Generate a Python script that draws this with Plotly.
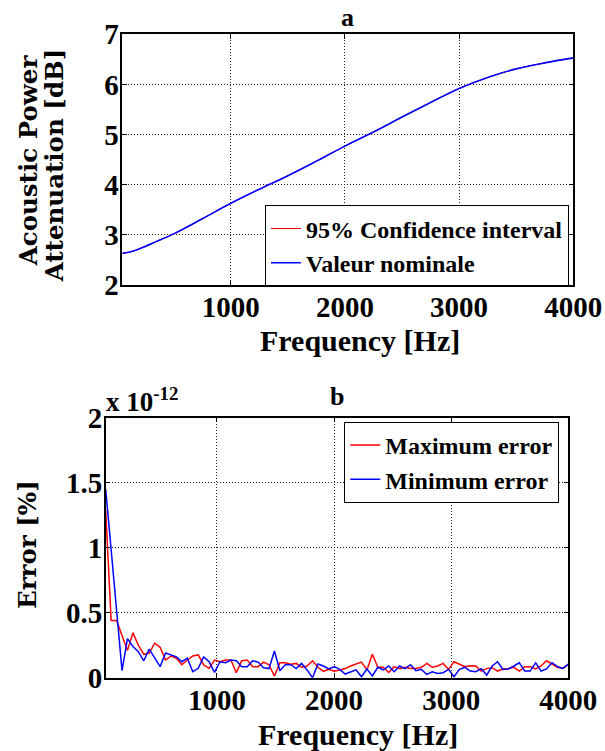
import numpy as np
import plotly.graph_objects as go

# ---------------- data ----------------
# (a) acoustic power attenuation [dB] vs frequency
freq_a = [50, 150, 250, 350, 500, 750, 1000, 1250, 1500, 1750, 2000,
          2250, 2500, 2750, 3000, 3250, 3500, 3750, 4000]
nominal_db = [2.63, 2.68, 2.77, 2.87, 3.02, 3.32, 3.63, 3.91, 4.18, 4.47, 4.77,
              5.05, 5.35, 5.64, 5.92, 6.14, 6.31, 6.43, 6.53]
# 95% confidence interval coincides with the nominal curve at this scale
ci_db = list(nominal_db)

# (b) error [%] (values in units of 1e-12) vs frequency
freq_b = list(np.round(np.linspace(50, 4000, 86), 1))
max_err_e12 = [1.29, 0.44, 0.44, 0.33, 0.21, 0.345, 0.25, 0.18, 0.19, 0.265,
               0.234, 0.136, 0.167, 0.15, 0.10, 0.136, 0.167, 0.175, 0.098, 0.072,
               0.136, 0.123, 0.136, 0.136, 0.039, 0.13, 0.136, 0.085, 0.085, 0.12,
               0.10, 0.013, 0.115, 0.115, 0.104, 0.11, 0.08, 0.09, 0.13, 0.08,
               0.049, 0.064, 0.049, 0.06, 0.07, 0.09, 0.105, 0.12, 0.06, 0.18,
               0.08, 0.08, 0.04, 0.085, 0.07, 0.08, 0.07, 0.07, 0.08, 0.11,
               0.08, 0.09, 0.11, 0.064, 0.123, 0.105, 0.085, 0.092, 0.09, 0.051,
               0.07, 0.077, 0.051, 0.067, 0.07, 0.08, 0.051, 0.085, 0.085, 0.067,
               0.09, 0.13, 0.105, 0.08, 0.072, 0.1]
min_err_e12 = [1.45, 0.98, 0.52, 0.054, 0.30, 0.24, 0.20, 0.13, 0.22, 0.15,
               0.085, 0.19, 0.175, 0.16, 0.123, 0.15, 0.046, 0.072, 0.16, 0.123,
               0.041, 0.123, 0.116, 0.136, 0.13, 0.085, 0.085, 0.13, 0.12, 0.077,
               0.07, 0.205, 0.054, 0.1, 0.1, 0.07, 0.11, 0.06, 0.0, 0.105,
               0.09, 0.067, 0.085, 0.064, 0.028, 0.046, 0.06, 0.008, 0.067, 0.013,
               0.08, 0.06, 0.09, 0.046, 0.09, 0.07, 0.1, 0.054, 0.064, 0.025,
               0.046, 0.033, 0.038, 0.064, 0.008, 0.064, 0.08, 0.051, 0.046, 0.07,
               0.02, 0.09, 0.123, 0.064, 0.067, 0.09, 0.115, 0.051, 0.051, 0.115,
               0.051, 0.067, 0.115, 0.085, 0.072, 0.105]

x_ticks = [1000, 2000, 3000, 4000]
ya_ticks = [2, 3, 4, 5, 6, 7]
yb_ticks = [0, 0.5, 1, 1.5, 2]
yb_labels = ["0", "0.5", "1", "1.5", "2"]

# ---------------- figure ----------------
W, H = 605, 751
SERIF = "Liberation Serif"
SERIF_WIDE = "DejaVu Serif"

def px(xp):
    return xp / W

def py(yp):
    return 1 - yp / H

fig = go.Figure()
fig.add_trace(go.Scatter(x=freq_a, y=ci_db, mode="lines", name="95% Confidence interval",
                         line=dict(color="#ff0000", width=1.0, shape="spline"),
                         xaxis="x", yaxis="y", legend="legend"))
fig.add_trace(go.Scatter(x=freq_a, y=nominal_db, mode="lines", name="Valeur nominale",
                         line=dict(color="#0000ff", width=1.6, shape="spline"),
                         xaxis="x", yaxis="y", legend="legend"))
fig.add_trace(go.Scatter(x=freq_b, y=max_err_e12, mode="lines", name="Maximum error",
                         line=dict(color="#ff0000", width=1.5),
                         xaxis="x2", yaxis="y2", legend="legend2"))
fig.add_trace(go.Scatter(x=freq_b, y=min_err_e12, mode="lines", name="Minimum error",
                         line=dict(color="#0000ff", width=1.5),
                         xaxis="x2", yaxis="y2", legend="legend2"))

tickfont = dict(family=SERIF, size=29, color="black", weight="bold")
common = dict(showline=True, linecolor="black", linewidth=1.5, mirror="ticks",
              ticks="inside", ticklen=5, tickcolor="black", tickwidth=1, showgrid=True,
              gridcolor="#222222", griddash="1px,2px", gridwidth=1, zeroline=False,
              tickfont=tickfont, automargin=False)

legfont = dict(family=SERIF, size=24, color="black", weight="bold")
fig.update_layout(
    width=W, height=H, margin=dict(l=0, r=0, t=0, b=0, autoexpand=False),
    paper_bgcolor="white", plot_bgcolor="white",
    font=dict(family=SERIF, color="black", weight="bold"),
    xaxis=dict(domain=[px(122.3), px(573.3)], range=[50, 4000], tickvals=x_ticks,
               anchor="y", ticklabelstandoff=-5, **common),
    yaxis=dict(domain=[py(285), py(34.3)], range=[2, 7], tickvals=ya_ticks,
               anchor="x", ticklabelstandoff=-4, **common),
    xaxis2=dict(domain=[px(105.7), px(568.3)], range=[50, 4000], tickvals=x_ticks,
                anchor="y2", ticklabelstandoff=-4, **common),
    yaxis2=dict(domain=[py(677.7), py(417.7)], range=[0, 2], tickvals=yb_ticks,
                ticktext=yb_labels, anchor="x2", ticklabelstandoff=-4, **common),
    legend=dict(x=px(569), xanchor="right", y=py(245.9), yanchor="middle",
                bgcolor="white", bordercolor="black", borderwidth=1,
                font=legfont, itemwidth=30, tracegroupgap=0),
    legend2=dict(x=px(559.3), xanchor="right", y=py(462.5), yanchor="middle",
                 bgcolor="white", bordercolor="black", borderwidth=1,
                 font=legfont, itemwidth=30, tracegroupgap=0),
    showlegend=True,
)

def ann(text, x, y, size, family=SERIF, angle=0, xanchor="center", yanchor="middle"):
    fig.add_annotation(text=text, x=x, y=y, xref="paper", yref="paper",
                       showarrow=False, textangle=angle, xanchor=xanchor, yanchor=yanchor,
                       font=dict(family=family, size=size, color="black", weight="bold"))

ann("a", px(347.8), py(17.5), 26)
ann("b", px(337), py(396), 26)
ann("x 10<sup>-12</sup>", px(104), py(419), 27, xanchor="left", yanchor="bottom")
ann("Frequency [Hz]", px(360), py(341), 30)
ann("Frequency [Hz]", px(358), py(734), 30)
ann("Acoustic Power", px(28.5), py(160.8), 24.5, family=SERIF_WIDE, angle=-90)
ann("Attenuation [dB]", px(54.5), py(165.8), 24.5, family=SERIF_WIDE, angle=-90)
ann("Error [%]", px(27), py(545), 24.5, family=SERIF_WIDE, angle=-90)

fig.write_html("out.html", config={"displayModeBar": False})
